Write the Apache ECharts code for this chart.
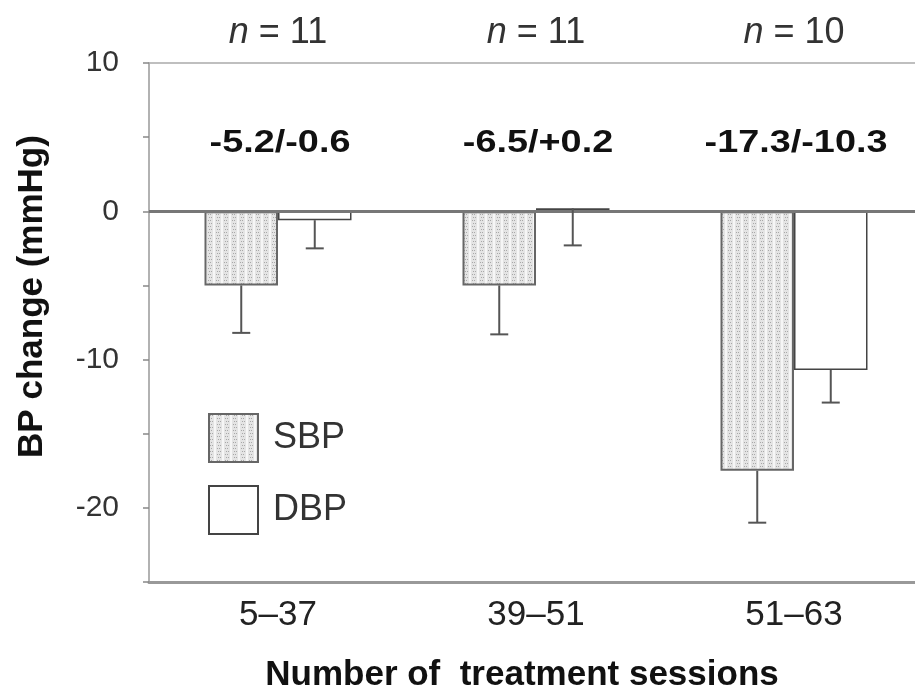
<!DOCTYPE html>
<html>
<head>
<meta charset="utf-8">
<script src="https://cdn.jsdelivr.net/npm/echarts@6/dist/echarts.min.js"></script>
<style>html,body{margin:0;padding:0;background:#fff}#c{width:915px;height:694px}</style>
</head>
<body>
<div id="c"></div>
<script>
const categories = ['5\u201337', '39\u201351', '51\u201363'];
const nLabels = ['11', '11', '10'];
const sbpMean = [-5.0, -5.0, -17.5];
const sbpLower = [-8.2, -8.3, -21.0];
const dbpMean = [-0.6, 0.2, -10.7];
const dbpLower = [-2.5, -2.3, -12.9];
const changeLabels = ['-5.2/-0.6', '-6.5/+0.2', '-17.3/-10.3'];
const yTicks = { min: -25, max: 10, step: 5 };

// dotted pattern for SBP bars
const tile = document.createElement('canvas');
tile.width = 8; tile.height = 6;
const g = tile.getContext('2d');
g.fillStyle = '#e4e4e4'; g.fillRect(0, 0, 8, 6);
g.fillStyle = '#f6f6f6'; g.fillRect(5, 0, 2, 6);
g.fillStyle = '#a8a8a8';
[[1,1],[3,1],[2,4],[0,4]].forEach(p => g.fillRect(p[0], p[1], 1, 1));

const FONT = '"Liberation Sans", Arial, sans-serif';
const chart = echarts.init(document.getElementById('c'));
const halfBar = 36.75;

chart.setOption({
  animation: false,
  backgroundColor: '#fff',
  grid: { left: 149, width: 774, top: 63, height: 519, containLabel: false, outerBoundsMode: 'none' },
  legend: {
    orient: 'vertical', left: 208, top: 413, padding: 0,
    itemWidth: 49, itemHeight: 48, itemGap: 22,
    icon: 'rect',
    textStyle: { fontFamily: FONT, fontSize: 36, color: '#333', padding: [0, 0, 0, 10] },
    data: ['SBP', 'DBP']
  },
  xAxis: [{
    type: 'category', data: categories, position: 'bottom',
    axisLine: { onZero: false, lineStyle: { color: '#999', width: 3 } },
    axisTick: { show: false },
    axisLabel: { fontFamily: FONT, fontSize: 35, color: '#222', margin: 16 },
    name: 'Number of  treatment sessions', nameLocation: 'middle', nameGap: 76,
    nameTextStyle: { fontFamily: FONT, fontSize: 35, fontWeight: 'bold', color: '#111', padding: [0, 28, 0, 0] }
  }, {
    type: 'category', data: nLabels, position: 'top',
    axisLine: { onZero: false, lineStyle: { color: '#aaa', width: 1.5 } },
    axisTick: { show: false },
    axisLabel: {
      margin: 12,
      formatter: v => '{i|n}{t| = ' + v + '}',
      rich: {
        i: { fontFamily: FONT, fontSize: 36, fontStyle: 'italic', color: '#333' },
        t: { fontFamily: FONT, fontSize: 36, color: '#333' }
      }
    }
  }],
  yAxis: {
    type: 'value', min: yTicks.min, max: yTicks.max, interval: yTicks.step,
    axisLine: { show: true, lineStyle: { color: '#999', width: 1.5 } },
    axisTick: { show: true, length: 6, lineStyle: { color: '#888', width: 1.5 } },
    splitLine: { show: false },
    axisLabel: {
      fontFamily: FONT, fontSize: 30, color: '#333', margin: 30,
      formatter: v => (v % 10 === 0 ? String(v) : '')
    },
    name: 'BP change (mmHg)', nameLocation: 'middle', nameGap: 99,
    nameTextStyle: { fontFamily: FONT, fontSize: 35, fontWeight: 'bold', color: '#111', padding: [0, 0, 0, 52] }
  },
  series: [{
    name: 'SBP', type: 'bar', data: sbpMean, barWidth: 73.5, barGap: '0%',
    itemStyle: { color: { image: tile, repeat: 'repeat' }, borderColor: '#666', borderWidth: 2 },
    markLine: {
      silent: true, symbol: 'none', label: { show: false },
      lineStyle: { color: '#777', width: 3, type: 'solid' },
      data: [{ yAxis: 0 }]
    }
  }, {
    name: 'DBP', type: 'bar', data: dbpMean, barWidth: 73.5, barGap: '0%',
    itemStyle: { color: '#fff', borderColor: '#444', borderWidth: 1.5 }
  }, {
    type: 'custom', name: 'err', xAxisIndex: 0,
    data: categories.map((c, i) => [i, sbpMean[i], sbpLower[i], dbpMean[i], dbpLower[i]]),
    z: 5,
    renderItem: function (params, api) {
      const i = api.value(0);
      const s0 = api.coord([i, api.value(1)]);
      const s1 = api.coord([i, api.value(2)]);
      const d0 = api.coord([i, api.value(3)]);
      const d1 = api.coord([i, api.value(4)]);
      const top = api.coord([i, yTicks.max]);
      const sx = s0[0] - halfBar, dx = d0[0] + halfBar;
      const cap = 9;
      const st = { stroke: '#555', lineWidth: 2 };
      return {
        type: 'group',
        children: [
          { type: 'line', shape: { x1: sx, y1: s0[1], x2: sx, y2: s1[1] }, style: st },
          { type: 'line', shape: { x1: sx - cap, y1: s1[1], x2: sx + cap, y2: s1[1] }, style: st },
          { type: 'line', shape: { x1: dx, y1: d0[1], x2: dx, y2: d1[1] }, style: st },
          { type: 'line', shape: { x1: dx - cap, y1: d1[1], x2: dx + cap, y2: d1[1] }, style: st },
          {
            type: 'text', x: top[0] + 2, y: top[1] + 80, scaleX: 1.22,
            style: {
              text: changeLabels[params.dataIndex], fontFamily: FONT, fontSize: 31,
              fontWeight: 'bold', fill: '#111', align: 'center', verticalAlign: 'middle'
            }
          }
        ]
      };
    }
  }]
});
</script>
</body>
</html>
